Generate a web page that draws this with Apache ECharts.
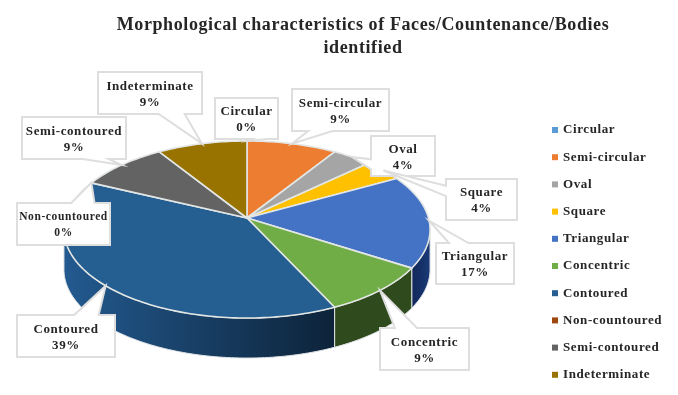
<!DOCTYPE html>
<html><head><meta charset="utf-8">
<style>html,body{margin:0;padding:0;background:#fff}#c{width:678px;height:395px}</style>
<script src="https://cdn.jsdelivr.net/npm/echarts@6/dist/echarts.min.js"></script>
</head><body><div id="c"></div>
<script>
// Data
const categories = ['Circular','Semi-circular','Oval','Square','Triangular','Concentric','Contoured','Non-countoured','Semi-contoured','Indeterminate'];
const percents = [0,9,4,4,17,9,39,0,9,9];
// Styles
const colors = ['#5b9bd5','#ed7d31','#a5a5a5','#ffc000','#4472c4','#70ad47','#255e91','#9e480e','#636363','#997300'];
const wallFrom = ['#2e4e6b','#77401a','#535353','#806000','#1a3a76','#2f4a1c','#235a90','#4f2407','#323232','#4d3a00'];
const wallTo = ['#2e4e6b','#77401a','#535353','#806000','#12275a','#2f4a1c','#0d2339','#4f2407','#323232','#4d3a00'];
// Layout: label boxes [left, top, right, bottom]
const labelBoxes = [[215,98,278,139],[292,89,389,131],[371,136,435,176],[446,179,517,220],[436,243,514,284],[380,328,469,370],[17,315,115,357],[17,203,110,245],[22,117,126,159],[98,72,202,114]];
const labelFontSizes = [13,13,13,13,13,13,13,11.5,13,13];
// Perspective disc
const apexX = 247, apexY = 218, halfW = 181.5, persp = 0.13, tilt = -58.7, depth = 40;
const rimVisible = [Math.asin(persp) + Math.PI / 2, 3 * Math.PI / 2 - Math.asin(persp)];

(function () {
  const P = CanvasRenderingContext2D.prototype, spacing = '0.6px';
  ['fillText', 'measureText'].forEach(k => {
    const f = P[k];
    P[k] = function () { this.letterSpacing = spacing; return f.apply(this, arguments); };
  });
})();

const total = percents.reduce((a, b) => a + b, 0);
const starts = [];
percents.reduce((a, v, i) => (starts[i] = a, a + v), 0);
const ang = p => p / total * 2 * Math.PI;
function rim(t, dy) {
  const u = Math.sin(t), v = Math.cos(t), w = 1 + persp * v;
  return [apexX + halfW * u / w, (tilt * v + apexY) / w + (dy || 0)];
}
function arc(a, b, dy) {
  const n = Math.max(2, Math.ceil((b - a) / 0.02)), pts = [];
  for (let i = 0; i <= n; i++) pts.push(rim(a + (b - a) * i / n, dy));
  return pts;
}
function sliceItem(i) {
  const kids = [];
  if (percents[i] <= 0) return { type: 'group', children: kids };
  const a = ang(starts[i]), b = ang(starts[i] + percents[i]);
  const wa = Math.max(a, rimVisible[0]), wb = Math.min(b, rimVisible[1]);
  if (wb > wa) {
    const top = arc(wa, wb, 0), bot = arc(wa, wb, depth).reverse();
    kids.push({ type: 'polygon', shape: { points: top.concat(bot) }, style: {
      fill: new echarts.graphic.LinearGradient(i === 6 ? 0 : 1, 0, i === 6 ? 1 : 0, 0, [{ offset: 0, color: wallFrom[i] }, { offset: 1, color: wallTo[i] }]),
      stroke: '#dfe4e6', lineWidth: 1 } });
  }
  kids.push({ type: 'polygon', shape: { points: [[apexX, apexY]].concat(arc(a, b, 0)) }, style: {
    fill: colors[i], stroke: '#e2e6e4', lineWidth: 1.6, lineJoin: 'round' } });
  return { type: 'group', children: kids };
}
function calloutPoints(box, tip) {
  const [l, t, r, b] = box, w = r - l, h = b - t, cx = (l + r) / 2, cy = (t + b) / 2;
  const dx = (tip[0] - cx) / w, dy = (tip[1] - cy) / h;
  const hPart = dx < 0 ? [2 / 12, 5 / 12] : [7 / 12, 10 / 12];
  const vPart = dy < 0 ? [2 / 12, 5 / 12] : [7 / 12, 10 / 12];
  const inside = Math.abs(dx) <= 0.5 && Math.abs(dy) <= 0.5;
  const pts = [[l, t]];
  if (!inside && Math.abs(dy) >= Math.abs(dx) && dy < 0) pts.push([l + w * hPart[0], t], tip, [l + w * hPart[1], t]);
  pts.push([r, t]);
  if (!inside && Math.abs(dx) > Math.abs(dy) && dx > 0) pts.push([r, t + h * vPart[0]], tip, [r, t + h * vPart[1]]);
  pts.push([r, b]);
  if (!inside && Math.abs(dy) >= Math.abs(dx) && dy > 0) pts.push([l + w * hPart[1], b], tip, [l + w * hPart[0], b]);
  pts.push([l, b]);
  if (!inside && Math.abs(dx) > Math.abs(dy) && dx < 0) pts.push([l, t + h * vPart[1]], tip, [l, t + h * vPart[0]]);
  return pts;
}
const labelFont = { fontFamily: '"Liberation Serif"', fontWeight: 'bold', fontSize: 13 };
const slices = categories.map((name, i) => ({
  name, type: 'custom', coordinateSystem: 'none', z: 2, silent: true,
  itemStyle: { color: colors[i] }, animation: false,
  data: [[percents[i]]],
  renderItem: () => sliceItem(i)
}));
const labels = {
  name: 'labels', type: 'custom', coordinateSystem: 'none', z: 5, silent: true, animation: false,
  data: percents.map(v => [v]),
  renderItem: (params) => {
    const i = params.dataIndex, box = labelBoxes[i];
    const tip = rim(ang(starts[i] + percents[i] / 2), 0);
    return { type: 'group', children: [
      { type: 'polygon', shape: { points: calloutPoints(box, tip) }, style: { fill: '#fff', stroke: '#dedede', lineWidth: 2, lineJoin: 'miter' } },
      { type: 'text', x: (box[0] + box[2]) / 2, y: (box[1] + box[3]) / 2 + 1.5, style: Object.assign({}, labelFont, {
        text: categories[i] + '\n' + percents[i] + '%', align: 'center', verticalAlign: 'middle', lineHeight: 16, fill: '#262626', fontSize: labelFontSizes[i] }) }
    ] };
  }
};
const chart = echarts.init(document.getElementById('c'), null, { renderer: 'canvas' });
chart.setOption({
  animation: false,
  title: { text: 'Morphological characteristics of Faces/Countenance/Bodies\nidentified', left: 358, top: 9, textAlign: 'center',
    textStyle: { fontFamily: '"Liberation Serif"', fontWeight: 'bold', fontSize: 18, lineHeight: 23, color: '#262626' } },
  legend: { orient: 'vertical', left: 547, top: 118, itemWidth: 6, itemHeight: 6, itemGap: 13.2, icon: 'rect', selectedMode: false,
    data: categories, textStyle: Object.assign({ color: '#262626', lineHeight: 14 }, labelFont) },
  series: slices.concat([labels])
});
</script></body></html>
